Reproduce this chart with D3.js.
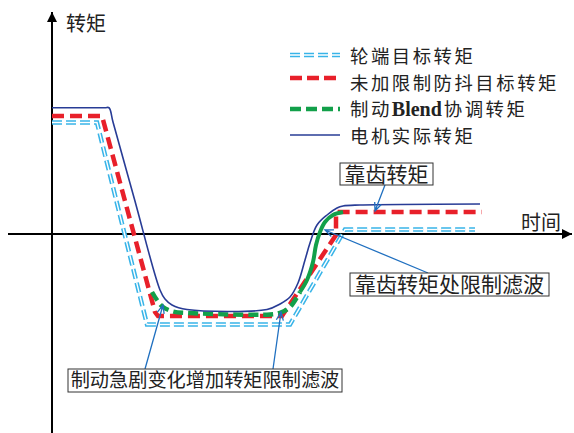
<!DOCTYPE html>
<html lang="zh">
<head>
<meta charset="UTF-8">
<title>torque</title>
<script src="https://cdn.jsdelivr.net/npm/d3@7"></script>
<style>
body { margin: 0; background: #fff; }
text { font-family: "Noto Sans CJK SC", sans-serif; fill: #222; }
.box { fill: #fff; stroke: #333; stroke-width: 1; }
.note { stroke: #2070c0; stroke-width: 1.3; fill: none; }
</style>
</head>
<body>
<script>
// 时间 (t) 与 转矩 (q) 都是相对单位
let seriesNames = ['轮端目标转矩', '未加限制防抖目标转矩', '制动Blend协调转矩', '电机实际转矩'];

let wheelTime = [0, 11.25, 23.75, 59.5, 73.25, 105.75];
let wheelTorque = [89.2, 89.2, -72.4, -72.4, 3.6, 3.6];

let rawTime = [0, 12.5, 25.75, 26.5, 57.5, 71, 71, 107.5];
let rawTorque = [94.4, 94.4, -62.4, -65.6, -65.6, -0.8, 17.6, 17.6];

let blendTime = [25, 26.25, 27.75, 30.25, 34.5, 54.5, 57, 59.5, 62, 63.75, 65.25, 66, 67, 68.25, 70.25, 72.75];
let blendTorque = [-46.4, -52.8, -58.4, -62, -63.2, -64.4, -63, -58.4, -46.4, -36.8, -22.4, -8.8, 1.6, 9.6, 15.2, 17.6];

let motorTime = [0, 13.25, 14.25, 15.25, 20.6, 27, 28.25, 30, 33.75, 53.75, 57, 59.5, 61.5, 63.25, 64.5, 66.25, 68.75, 71.25, 72.75, 77, 107];
let motorTorque = [101, 101, 101, 89.6, 28, -44.8, -52, -56.8, -60.4, -60.4, -56, -50.4, -39.2, -20.8, -7.2, 7.2, 15.2, 20.8, 22.4, 23.2, 24];

let width = 574;
let height = 433;

let x = d3.scaleLinear().domain([-11, 130]).range([8, 572]);
let y = d3.scaleLinear().domain([-159.2, 177.6]).range([433, 12]);

function zip(ts, qs) {
  return ts.map((t, i) => [t, qs[i]]);
}

let svg = d3.select('body').append('svg')
  .attr('width', width)
  .attr('height', height);

svg.append('defs').append('marker')
  .attr('id', 'arrow')
  .attr('viewBox', '0 0 10 10')
  .attr('refX', 10).attr('refY', 5)
  .attr('markerUnits', 'userSpaceOnUse')
  .attr('markerWidth', 13).attr('markerHeight', 10)
  .attr('orient', 'auto')
  .append('path')
  .attr('d', 'M0,0L10,5L0,10z')
  .attr('fill', '#000');

// axes
svg.append('line')
  .attr('x1', x(0)).attr('y1', y(-159.2))
  .attr('x2', x(0)).attr('y2', y(177.6))
  .attr('stroke', '#000').attr('stroke-width', 2)
  .attr('marker-end', 'url(#arrow)');
svg.append('line')
  .attr('x1', x(-11)).attr('y1', y(0))
  .attr('x2', x(130)).attr('y2', y(0))
  .attr('stroke', '#000').attr('stroke-width', 2)
  .attr('marker-end', 'url(#arrow)');

svg.append('text').attr('x', 66).attr('y', 31)
  .attr('font-size', 20).text('转矩');
svg.append('text').attr('x', 521).attr('y', 230)
  .attr('font-size', 20).text('时间');

let line = d3.line().x(d => x(d[0])).y(d => y(d[1]));
let smooth = d3.line().x(d => x(d[0])).y(d => y(d[1])).curve(d3.curveCatmullRom.alpha(0.5));

// 轮端目标转矩: double dashed line
let wheel = zip(wheelTime, wheelTorque);
svg.append('path').attr('d', line(wheel))
  .attr('fill', 'none').attr('stroke', '#38b4e8').attr('stroke-width', 4.5)
  .attr('stroke-dasharray', '10,4');
svg.append('path').attr('d', line(wheel))
  .attr('fill', 'none').attr('stroke', '#fff').attr('stroke-width', 1.4)
  .attr('stroke-dasharray', '10,4');

// 未加限制防抖目标转矩
svg.append('path').attr('d', line(zip(rawTime, rawTorque)))
  .attr('fill', 'none').attr('stroke', '#e8202a').attr('stroke-width', 4.5)
  .attr('stroke-dasharray', '12,6');

// 制动Blend协调转矩: dashed in the trough, solid on the rise
let blend = zip(blendTime, blendTorque);
svg.append('path').attr('d', smooth(blend.filter(d => d[0] <= 62)))
  .attr('fill', 'none').attr('stroke', '#12a04a').attr('stroke-width', 4.5)
  .attr('stroke-dasharray', '10,5');
svg.append('path').attr('d', smooth(blend.filter(d => d[0] >= 62)))
  .attr('fill', 'none').attr('stroke', '#12a04a').attr('stroke-width', 4);

// 电机实际转矩
svg.append('path').attr('d', smooth(zip(motorTime, motorTorque)))
  .attr('fill', 'none').attr('stroke', '#283c96').attr('stroke-width', 1.6);

// legend
let legendY = [55, 78, 109, 135];
let legendTextY = [56, 83, 109, 136];
let lg = svg.append('g');
function legendLine(i, stroke, w, dash) {
  lg.append('line')
    .attr('x1', 290).attr('x2', 340)
    .attr('y1', legendY[i]).attr('y2', legendY[i])
    .attr('stroke', stroke).attr('stroke-width', w)
    .attr('stroke-dasharray', dash);
}
legendLine(0, '#38b4e8', 4.5, '10,4');
legendLine(0, '#fff', 1.4, '10,4');
legendLine(1, '#e8202a', 4.5, '12,5');
legendLine(2, '#12a04a', 4.5, '11,5');
legendLine(3, '#283c96', 1.6, null);

seriesNames.forEach((name, i) => {
  let t = lg.append('text')
    .attr('x', 350).attr('y', legendTextY[i])
    .attr('dy', '0.36em')
    .attr('font-size', 18.4)
    .attr('letter-spacing', 2.5);
  if (name.indexOf('Blend') >= 0) {
    let parts = name.split('Blend');
    t.append('tspan').text(parts[0]);
    t.append('tspan')
      .style('font-family', '"Liberation Serif", serif')
      .attr('font-weight', 'bold')
      .attr('font-size', 20)
      .attr('letter-spacing', 0)
      .text('Blend');
    t.append('tspan').attr('dx', 2).text(parts[1]);
  } else {
    t.text(name);
  }
});

// annotations: box in page pixels, arrow tips in data units
let notes = [
  { text: '靠齿转矩', bx: 340, by: 163, bw: 93, bh: 22, size: 21,
    arrows: [{ from: [385, 185], tip: [80.75, 18.4] }] },
  { text: '靠齿转矩处限制滤波', bx: 350, by: 273, bw: 199, bh: 23, size: 21,
    arrows: [{ from: [428, 273], tip: [68.25, 3.2] }] },
  { text: '制动急剧变化增加转矩限制滤波', bx: 68, by: 369, bw: 274, bh: 23, size: 19.2,
    arrows: [{ from: [145, 369], tip: [27.75, -56.8] },
             { from: [273, 369], tip: [57.25, -62.4] }] }
];

notes.forEach(n => {
  n.arrows.forEach(a => {
    let tx = x(a.tip[0]), ty = y(a.tip[1]);
    let ang = Math.atan2(a.from[1] - ty, a.from[0] - tx);
    let len = 9, spread = 0.4;
    svg.append('path').attr('class', 'note')
      .attr('d', 'M' + a.from[0] + ',' + a.from[1] + 'L' + tx + ',' + ty +
        'M' + (tx + len * Math.cos(ang - spread)) + ',' + (ty + len * Math.sin(ang - spread)) +
        'L' + tx + ',' + ty +
        'L' + (tx + len * Math.cos(ang + spread)) + ',' + (ty + len * Math.sin(ang + spread)));
  });
  svg.append('rect').attr('class', 'box')
    .attr('x', n.bx).attr('y', n.by)
    .attr('width', n.bw).attr('height', n.bh);
  svg.append('text')
    .attr('x', n.bx + n.bw / 2).attr('y', n.by + n.bh / 2)
    .attr('dy', '0.36em')
    .attr('text-anchor', 'middle')
    .attr('font-size', n.size)
    .text(n.text);
});
</script>
</body>
</html>
